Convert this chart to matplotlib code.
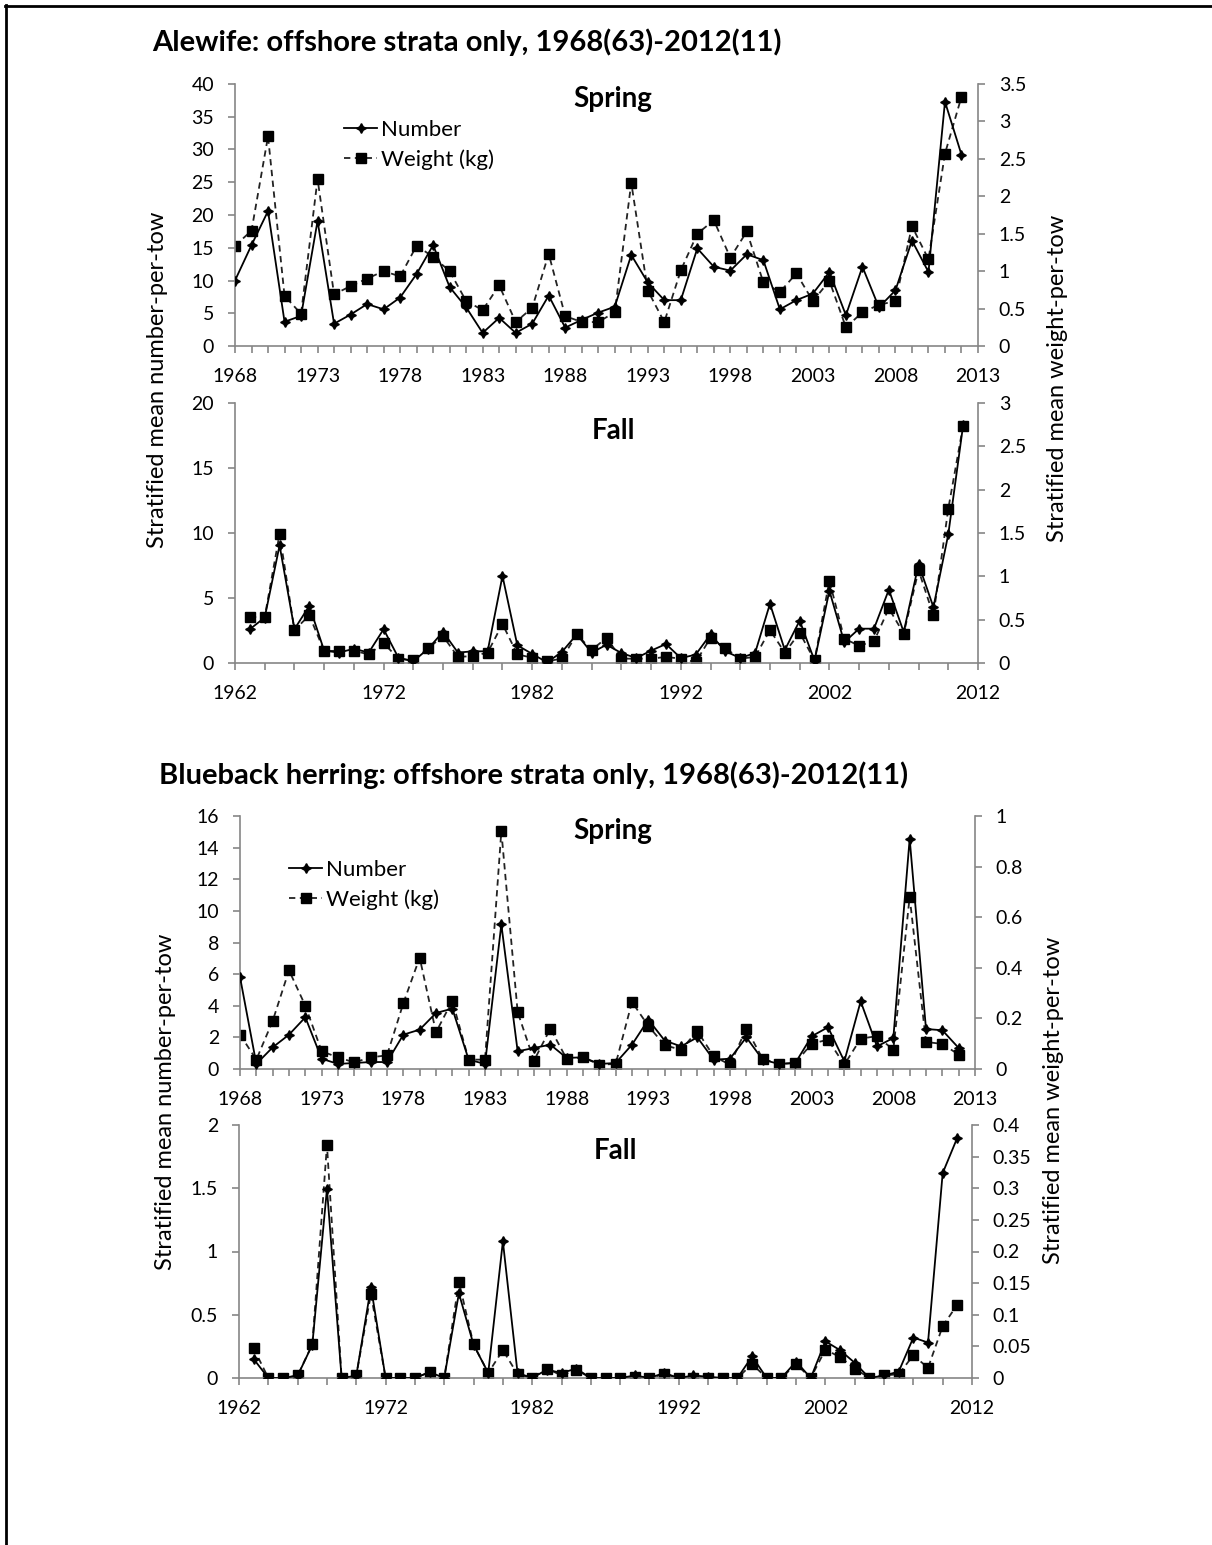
import numpy as np
import matplotlib
matplotlib.use('Agg')
import matplotlib.pyplot as plt
from matplotlib.lines import Line2D
from matplotlib.ticker import FuncFormatter

plt.rcParams['font.family'] = ['Lato', 'DejaVu Sans']

W, H = 1212, 1545

# ---- data ----
spring_years = list(range(1968, 2013))
fall_years = list(range(1963, 2012))

# Alewife, spring: number-per-tow and weight (kg) per tow
ale_spring_num = [10.0, 15.4, 20.6, 3.7, 4.6, 19.1, 3.4, 4.8, 6.4, 5.6,
                  7.4, 11.0, 15.4, 9.0, 5.9, 2.0, 4.3, 2.0, 3.4, 7.7,
                  2.8, 4.0, 5.1, 6.0, 13.9, 9.7, 7.0, 7.0, 14.9, 12.1,
                  11.5, 14.0, 13.1, 5.6, 7.0, 8.0, 11.3, 4.7, 12.1, 5.9,
                  8.5, 16.1, 11.3, 37.3, 29.2]
ale_spring_wt = [1.34, 1.54, 2.80, 0.67, 0.43, 2.23, 0.69, 0.80, 0.90, 1.00,
                 0.93, 1.34, 1.19, 1.00, 0.60, 0.48, 0.81, 0.32, 0.51, 1.23,
                 0.40, 0.32, 0.32, 0.45, 2.18, 0.74, 0.32, 1.01, 1.50, 1.68,
                 1.18, 1.53, 0.85, 0.72, 0.97, 0.60, 0.87, 0.25, 0.45, 0.55,
                 0.60, 1.60, 1.16, 2.57, 3.33]

# Alewife, fall
ale_fall_num = [2.6, 3.5, 9.05, 2.6, 4.4, 0.95, 0.8, 1.1, 0.8, 2.6,
                0.4, 0.13, 1.1, 2.4, 0.8, 0.9, 0.9, 6.7, 1.36, 0.7,
                0.05, 0.85, 2.2, 0.8, 1.4, 0.77, 0.38, 0.95, 1.46, 0.38,
                0.64, 2.2, 0.9, 0.38, 0.77, 4.56, 1.0, 3.26, 0.18, 5.56,
                1.6, 2.64, 2.64, 5.64, 2.38, 7.6, 4.3, 9.9, 18.3]
ale_fall_wt = [0.53, 0.53, 1.49, 0.38, 0.55, 0.14, 0.14, 0.14, 0.10, 0.23,
               0.05, 0.03, 0.17, 0.31, 0.07, 0.08, 0.12, 0.45, 0.10, 0.06,
               0.02, 0.05, 0.33, 0.15, 0.29, 0.05, 0.05, 0.05, 0.07, 0.05,
               0.01, 0.29, 0.17, 0.05, 0.07, 0.38, 0.12, 0.35, 0.03, 0.95,
               0.28, 0.20, 0.25, 0.63, 0.34, 1.07, 0.55, 1.78, 2.74]

# Blueback herring, spring
bbh_spring_num = [5.82, 0.32, 1.37, 2.17, 3.27, 0.65, 0.32, 0.38, 0.44, 0.44,
                  2.17, 2.49, 3.54, 3.82, 0.59, 0.32, 9.14, 1.12, 1.33, 1.54,
                  0.70, 0.74, 0.32, 0.38, 1.54, 3.12, 1.80, 1.43, 2.00, 0.59,
                  0.65, 2.00, 0.59, 0.32, 0.38, 2.07, 2.64, 0.49, 4.28, 1.43,
                  1.96, 14.56, 2.53, 2.45, 1.33]
bbh_spring_wt = [0.136, 0.037, 0.19, 0.39, 0.25, 0.07, 0.046, 0.026, 0.046, 0.054,
                 0.26, 0.44, 0.145, 0.27, 0.037, 0.037, 0.94, 0.225, 0.033, 0.16,
                 0.04, 0.046, 0.017, 0.02, 0.265, 0.17, 0.094, 0.076, 0.15, 0.05,
                 0.017, 0.16, 0.04, 0.02, 0.024, 0.10, 0.116, 0.017, 0.12, 0.13,
                 0.076, 0.68, 0.107, 0.099, 0.057]

# Blueback herring, fall
bbh_fall_num = [0.15, 0.0, 0.0, 0.018, 0.263, 1.495, 0.0, 0.018, 0.72, 0.0,
                0.0, 0.0, 0.047, 0.0, 0.67, 0.263, 0.04, 1.08, 0.04, 0.0,
                0.066, 0.04, 0.074, 0.0, 0.0, 0.0, 0.02, 0.0, 0.04, 0.0,
                0.02, 0.01, 0.0, 0.0, 0.17, 0.0, 0.0, 0.13, 0.0, 0.29,
                0.22, 0.12, 0.0, 0.02, 0.05, 0.32, 0.28, 1.62, 1.9]
bbh_fall_wt = [0.047, 0.0, 0.0, 0.004, 0.053, 0.368, 0.0, 0.004, 0.133, 0.0,
               0.0, 0.0, 0.009, 0.0, 0.152, 0.053, 0.008, 0.044, 0.006, 0.0,
               0.015, 0.004, 0.013, 0.0, 0.0, 0.0, 0.002, 0.0, 0.006, 0.0,
               0.0, 0.0, 0.0, 0.0, 0.022, 0.0, 0.0, 0.022, 0.0, 0.045,
               0.033, 0.015, 0.0, 0.004, 0.006, 0.036, 0.016, 0.082, 0.116]

GRAY = '#868686'
FS = 14
LEG_FS = 16
TITLE_FS = 21
SEASON_FS = 20
YLAB_FS = 17


def px_axes(fig, l, t, r, b):
    return fig.add_axes([l / W, 1 - b / H, (r - l) / W, (b - t) / H])


def fig_text(fig, x, y, s, **kw):
    fig.text(x / W, 1 - y / H, s, **kw)


def fmt(v, p):
    return '%g' % round(v, 3)


def panel(fig, box, years, num, wt, xlim, xstep, lstep, ylim1, ystep1, ylim2, ystep2):
    ax = px_axes(fig, *box)
    ax2 = ax.twinx()
    l1, = ax.plot(years, num, color='black', lw=1.3, marker=(4, 1, 0), ms=7,
                  label='Number', zorder=3)
    l2, = ax2.plot(years, wt, color='#222222', lw=1.3, ls=(0, (3.5, 2.5)),
                   marker='s', ms=6.5, mfc='black', mec='black', label='Weight (kg)')
    ax.set_zorder(ax2.get_zorder() + 1)
    ax.patch.set_visible(False)

    ax.set_xlim(*xlim)
    ax.set_ylim(0, ylim1)
    ax2.set_ylim(0, ylim2)
    ax.set_xticks(np.arange(xlim[0], xlim[1] + 1, lstep))
    ax.set_xticks(np.arange(xlim[0], xlim[1] + 1, xstep), minor=True)
    ax.set_yticks(np.arange(0, ylim1 + 1e-9, ystep1))
    ax2.set_yticks(np.arange(0, ylim2 + 1e-9, ystep2))
    ax.yaxis.set_major_formatter(FuncFormatter(fmt))
    ax2.yaxis.set_major_formatter(FuncFormatter(fmt))

    for a in (ax, ax2):
        a.spines['top'].set_visible(False)
        for s in a.spines.values():
            s.set_color(GRAY)
            s.set_linewidth(1.2)
    ax.spines['right'].set_visible(False)
    ax2.spines['left'].set_visible(False)
    ax2.spines['bottom'].set_visible(False)

    ax.tick_params(axis='both', which='both', direction='out', length=5,
                   color=GRAY, width=1.2, labelsize=FS)
    ax.tick_params(axis='y', pad=10)
    ax.tick_params(axis='x', pad=11)
    ax2.tick_params(axis='y', direction='out', length=5, color=GRAY, width=1.2,
                    labelsize=FS, pad=10)
    return ax, ax2, l1, l2


def legend(ax, l1, l2, x, y):
    ax.legend([l1, l2], ['Number', 'Weight (kg)'], loc='upper left',
              bbox_to_anchor=(x / W, 1 - y / H), bbox_transform=fig.transFigure,
              frameon=False, fontsize=LEG_FS, handlelength=1.5, handletextpad=0.15,
              labelspacing=0.42, borderaxespad=0, borderpad=0)


fig = plt.figure(figsize=(W / 100, H / 100), dpi=100)

# page border (left and top)
fig.add_artist(Line2D([6 / W, 6 / W], [0, 1 - 5 / H], transform=fig.transFigure,
                      color='black', lw=2))
fig.add_artist(Line2D([5 / W, 1], [1 - 6 / H, 1 - 6 / H], transform=fig.transFigure,
                      color='black', lw=2))

# ---- Alewife ----
fig_text(fig, 152, 42, 'Alewife: offshore strata only, 1968(63)-2012(11)',
         fontsize=TITLE_FS, fontweight='bold', ha='left', va='center')
ax, ax2, l1, l2 = panel(fig, (235, 84, 978, 346), spring_years, ale_spring_num, ale_spring_wt,
                        (1968, 2013), 1, 5, 40, 5, 3.5, 0.5)
legend(ax, l1, l2, 344, 120)
fig_text(fig, 613, 99, 'Spring', fontsize=SEASON_FS, fontweight='bold', ha='center', va='center')

panel(fig, (235, 403, 978, 663), fall_years, ale_fall_num, ale_fall_wt,
      (1962, 2012), 2, 10, 20, 5, 3, 0.5)
fig_text(fig, 613, 431, 'Fall', fontsize=SEASON_FS, fontweight='bold', ha='center', va='center')

fig_text(fig, 157, 380, 'Stratified mean number-per-tow', fontsize=YLAB_FS,
         rotation=90, ha='center', va='center')
fig_text(fig, 1058, 378, 'Stratified mean weight-per-tow', fontsize=YLAB_FS,
         rotation=90, ha='center', va='center')

# ---- Blueback herring ----
fig_text(fig, 159, 775, 'Blueback herring: offshore strata only, 1968(63)-2012(11)',
         fontsize=TITLE_FS, fontweight='bold', ha='left', va='center')
ax, ax2, l1, l2 = panel(fig, (240, 816, 975, 1069), spring_years, bbh_spring_num, bbh_spring_wt,
                        (1968, 2013), 1, 5, 16, 2, 1, 0.2)
legend(ax, l1, l2, 289, 860)
fig_text(fig, 613, 831, 'Spring', fontsize=SEASON_FS, fontweight='bold', ha='center', va='center')

panel(fig, (239, 1125, 972, 1378), fall_years, bbh_fall_num, bbh_fall_wt,
      (1962, 2012), 2, 10, 2, 0.5, 0.4, 0.05)
fig_text(fig, 615, 1151, 'Fall', fontsize=SEASON_FS, fontweight='bold', ha='center', va='center')

fig_text(fig, 165, 1102, 'Stratified mean number-per-tow', fontsize=YLAB_FS,
         rotation=90, ha='center', va='center')
fig_text(fig, 1053, 1100, 'Stratified mean weight-per-tow', fontsize=YLAB_FS,
         rotation=90, ha='center', va='center')

fig.savefig('out.png', dpi=100)
